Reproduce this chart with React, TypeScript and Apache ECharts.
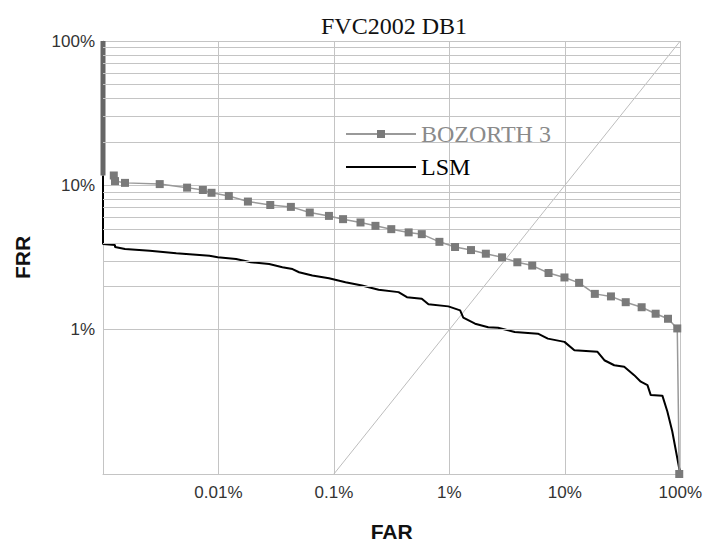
import React, { useEffect, useRef } from "react";
import * as echarts from "echarts";

const titleText = "FVC2002 DB1";
const xName = "FAR";
const yName = "FRR";
const bozorthName = "BOZORTH 3";
const lsmName = "LSM";

// BOZORTH 3 curve [FAR, FRR] (fractions)
const bozorthEdge: [number, number][] = [
  [1e-5, 1.0],
  [1e-5, 0.117],
];
const bozorth: [number, number][] = [
  [1.24e-5, 0.117], [1.27e-5, 0.107], [1.55e-5, 0.104], [3.1e-5, 0.102],
  [5.35e-5, 0.0964], [7.33e-5, 0.0928], [8.71e-5, 0.0888], [1.23e-4, 0.0844],
  [1.8e-4, 0.0772], [2.81e-4, 0.0731], [4.24e-4, 0.0709], [6.18e-4, 0.0648],
  [9.06e-4, 0.0614], [1.2e-3, 0.0583], [1.7e-3, 0.0553], [2.29e-3, 0.0524],
  [3.14e-3, 0.0497], [4.44e-3, 0.0472], [5.77e-3, 0.0459], [8.2e-3, 0.0406],
  [1.12e-2, 0.0374], [1.54e-2, 0.0356], [2.07e-2, 0.0336], [2.86e-2, 0.0317],
  [3.88e-2, 0.0293], [5.22e-2, 0.0278], [7.23e-2, 0.0247], [9.93e-2, 0.023],
  [0.133, 0.0211], [0.182, 0.0177], [0.251, 0.017], [0.337, 0.0155],
  [0.463, 0.0143], [0.612, 0.0129], [0.783, 0.0119], [0.942, 0.0102],
  [0.98, 0.001],
];
// LSM curve [FAR, FRR]
const lsm: [number, number][] = [
  [1e-5, 0.117], [1e-5, 0.0392], [1.27e-5, 0.0386], [1.27e-5, 0.0374],
  [1.55e-5, 0.0362], [2.54e-5, 0.0352], [4.31e-5, 0.0338], [8.36e-5, 0.0325],
  [9.86e-5, 0.0317], [1.42e-4, 0.0309], [1.91e-4, 0.0293], [2.75e-4, 0.0285],
  [3.58e-4, 0.0271], [4.38e-4, 0.0263], [4.99e-4, 0.025], [6.5e-4, 0.0237],
  [9.06e-4, 0.0227], [1.26e-3, 0.0213], [1.75e-3, 0.0202], [2.44e-3, 0.0189],
  [3.63e-3, 0.0182], [4.29e-3, 0.0168], [5.77e-3, 0.0164], [6.59e-3, 0.015],
  [9.8e-3, 0.0145], [1.24e-2, 0.0136], [1.32e-2, 0.0121], [1.67e-2, 0.011],
  [2.17e-2, 0.0104], [2.64e-2, 0.0103], [3.68e-2, 0.00964], [5.85e-2, 0.00938],
  [7.13e-2, 0.00867], [9.93e-2, 0.00823], [0.121, 0.0072], [0.192, 0.00702],
  [0.22, 0.00614], [0.268, 0.00567], [0.327, 0.00553], [0.399, 0.00484],
  [0.455, 0.00436], [0.52, 0.00413], [0.555, 0.00352], [0.7, 0.00349],
  [0.773, 0.00271], [0.853, 0.00197], [0.942, 0.00129], [1.0, 0.001],
];
// FAR = FRR diagonal
const diagonal: [number, number][] = [
  [0.001, 0.001],
  [1, 1],
];
// minor horizontal grid values
const minorY: number[] = [
  0.002, 0.003, 0.004, 0.005, 0.006, 0.007, 0.008, 0.009,
  0.02, 0.03, 0.04, 0.05, 0.06, 0.07, 0.08, 0.09,
  0.2, 0.3, 0.4, 0.5, 0.6, 0.7, 0.8, 0.9,
];

const SERIF = '"Liberation Serif", "Times New Roman", serif';
const SANS = '"Liberation Sans", Arial, sans-serif';
const GRID = "#c4c4c4";

const pct = (v: number) => Number((v * 100).toPrecision(6)).toString() + "%";

export default function App() {
  const ref = useRef<HTMLDivElement>(null);
  useEffect(() => {
    document.body.style.margin = "0";
    if (!ref.current) return;
    const chart = echarts.init(ref.current, null, { renderer: "svg" });
    chart.setOption({
      animation: false,
      backgroundColor: "#ffffff",
      title: {
        text: titleText,
        left: 389,
        top: 9,
        textAlign: "center",
        textStyle: { fontFamily: SERIF, fontSize: 24, fontWeight: "normal", color: "#111" },
      },
      legend: {
        orient: "vertical",
        left: 340,
        top: 117,
        itemWidth: 70,
        itemHeight: 10,
        itemGap: 9,
        textStyle: { fontFamily: SERIF, fontSize: 24 },
        data: [
          { name: bozorthName, textStyle: { color: "#8a8a8a" } },
          { name: lsmName, textStyle: { color: "#000" }, itemStyle: { opacity: 0 } },
        ],
      },
      grid: { left: 103, right: 22, top: 41, bottom: 70 },
      xAxis: {
        type: "log",
        logBase: 10,
        min: 1e-5,
        max: 1,
        splitNumber: 5,
        name: xName,
        nameLocation: "middle",
        nameGap: 47,
        nameTextStyle: { fontFamily: SANS, fontSize: 21, fontWeight: "bold", color: "#111" },
        axisLine: { show: true, lineStyle: { color: GRID } },
        axisTick: { show: false },
        axisLabel: {
          showMinLabel: false,
          formatter: pct,
          margin: 10,
          fontFamily: SANS,
          fontSize: 17,
          color: "#333",
        },
        splitLine: { show: true, lineStyle: { color: GRID, width: 1 } },
      },
      yAxis: {
        type: "log",
        logBase: 10,
        min: 0.001,
        max: 1,
        splitNumber: 3,
        name: yName,
        nameLocation: "middle",
        nameRotate: 90,
        nameGap: 70,
        nameTextStyle: { fontFamily: SANS, fontSize: 21, fontWeight: "bold", color: "#111" },
        axisLine: { show: true, lineStyle: { color: GRID } },
        axisTick: { show: false },
        axisLabel: {
          showMinLabel: false,
          formatter: pct,
          margin: 8,
          fontFamily: SANS,
          fontSize: 17,
          color: "#333",
        },
        splitLine: { show: true, lineStyle: { color: GRID, width: 1 } },
      },
      series: [
        {
          name: "diagonal",
          type: "line",
          data: diagonal,
          showSymbol: false,
          symbol: "none",
          silent: true,
          lineStyle: { color: "#bdbdbd", width: 1 },
          markLine: {
            silent: true,
            symbol: ["none", "none"],
            label: { show: false },
            lineStyle: { color: GRID, type: "solid", width: 1 },
            data: minorY.map((v) => ({ yAxis: v })),
          },
          z: 1,
        },
        {
          name: lsmName,
          type: "line",
          data: lsm,
          symbol: "none",
          lineStyle: { color: "#000", width: 2 },
          itemStyle: { color: "#000" },
          z: 3,
        },
        {
          name: "bozorthEdge",
          type: "line",
          data: bozorthEdge,
          symbol: "none",
          lineStyle: { color: "#666", width: 5 },
          z: 4,
        },
        {
          name: bozorthName,
          type: "line",
          data: bozorth,
          symbol: "rect",
          symbolSize: 8,
          lineStyle: { color: "#999", width: 1.5 },
          itemStyle: { color: "#7a7a7a" },
          z: 5,
        },
      ],
    });
    return () => chart.dispose();
  }, []);
  return <div ref={ref} style={{ width: 705, height: 547 }} />;
}
